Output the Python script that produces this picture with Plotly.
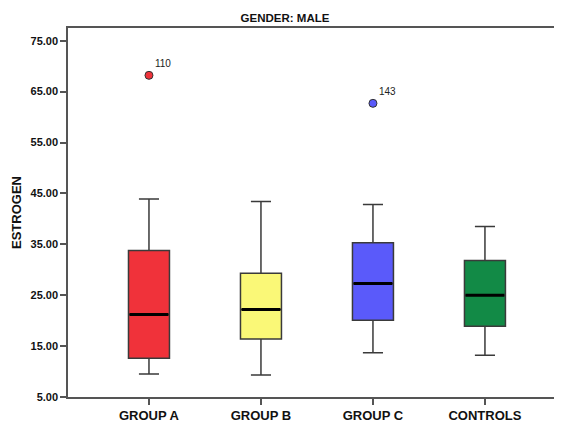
import plotly.graph_objects as go

categories = ["GROUP A", "GROUP B", "GROUP C", "CONTROLS"]
q1 = [12.6, 16.4, 20.1, 18.9]
median = [21.2, 22.2, 27.3, 25.0]
q3 = [33.8, 29.3, 35.3, 31.8]
lower_whisker = [9.5, 9.3, 13.7, 13.2]
upper_whisker = [43.9, 43.4, 42.8, 38.5]
colors = ["#F0323A", "#FAF877", "#5A5AFA", "#128A46"]

outlier_group = [0, 2]
outlier_value = [68.2, 62.7]
outlier_label = ["110", "143"]

y_ticks = [5, 15, 25, 35, 45, 55, 65, 75]

positions = list(range(len(categories)))
box_w = 0.366

fig = go.Figure()
for i, cat in enumerate(categories):
    fig.add_trace(go.Box(
        x=[positions[i]], q1=[q1[i]], median=[median[i]], q3=[q3[i]],
        lowerfence=[lower_whisker[i]], upperfence=[upper_whisker[i]],
        width=box_w, whiskerwidth=0.49, boxpoints=False,
        fillcolor=colors[i], line=dict(color="#3A3A3A", width=1.5),
        name=cat, showlegend=False, hoverinfo="skip",
    ))
    # thick median line
    fig.add_trace(go.Scatter(
        x=[positions[i] - box_w / 2 + 0.01, positions[i] + box_w / 2 - 0.01],
        y=[median[i], median[i]], mode="lines",
        line=dict(color="#000000", width=3), showlegend=False, hoverinfo="skip",
    ))

fig.add_trace(go.Scatter(
    x=[positions[g] for g in outlier_group], y=outlier_value,
    mode="markers+text", text=outlier_label, textposition="top right",
    textfont=dict(family="Liberation Sans, Arial", size=10, color="#222222"),
    marker=dict(color=[colors[g] for g in outlier_group], size=8,
                line=dict(color="#333333", width=1)),
    showlegend=False, hoverinfo="skip",
))

# the page places the figure 8px from the top-left corner (default body margin)
fig.update_layout(
    width=554, height=415,
    margin=dict(l=60, r=0, t=20, b=17),
    paper_bgcolor="white", plot_bgcolor="white",
    title=dict(text="<b>GENDER: MALE</b>", x=0.5, xref="container", xanchor="center",
               y=1 - 10 / 415, yanchor="middle",
               font=dict(family="Liberation Sans, Arial", size=11.5, color="#111111")),
    font=dict(family="Liberation Sans, Arial", color="#111111"),
    xaxis=dict(
        range=[-0.723, 3.688], tickvals=positions,
        ticktext=["<b>%s</b>" % c for c in categories],
        tickfont=dict(size=13, color="#111111"),
        showgrid=False, zeroline=False,
        showline=True, linecolor="#555555", linewidth=1.5, mirror=True,
        ticks="outside", ticklen=6, tickcolor="#555555", tickwidth=1.5,
    ),
    yaxis=dict(
        range=[5, 77.5], tickvals=y_ticks,
        ticktext=["<b>%.2f</b>" % v for v in y_ticks],
        tickfont=dict(size=11, color="#111111"),
        title=dict(text="<b>ESTROGEN</b>", font=dict(size=13, color="#111111"), standoff=6),
        showgrid=False, zeroline=False,
        showline=True, linecolor="#555555", linewidth=1.5,
        ticks="outside", ticklen=6, tickcolor="#555555", tickwidth=1.5,
    ),
)

fig.write_html("out.html")
